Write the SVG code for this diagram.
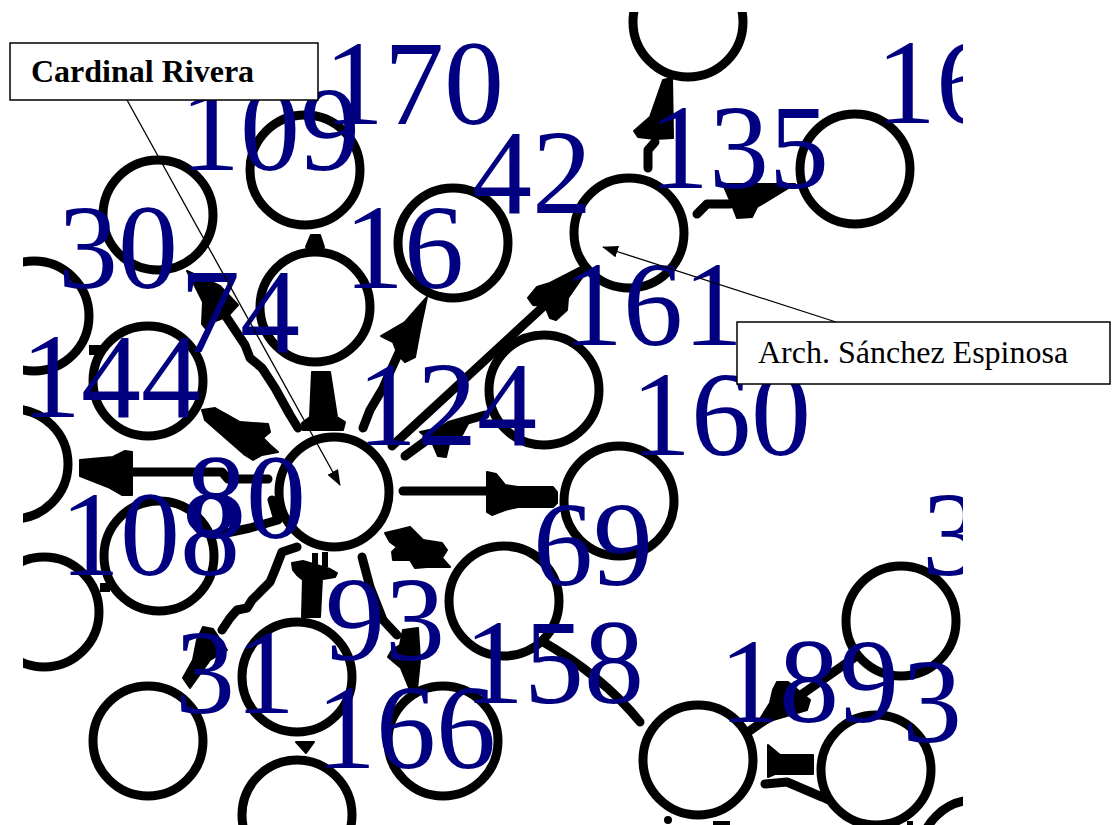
<svg xmlns="http://www.w3.org/2000/svg" width="1112" height="825" viewBox="0 0 1112 825">
  <style>
    .node circle { fill: #fff; stroke: #000; stroke-width: 9; }
    .edge { fill: none; stroke: #000; stroke-width: 9; stroke-linecap: round; stroke-linejoin: round; }
    .head { fill: #000; stroke: #000; stroke-width: 2; stroke-linejoin: round; }
    .lbl { font-family: "Liberation Serif", "Times New Roman", serif; font-size: 120px; fill: #000080; }
    .callout-box { fill: #fff; stroke: #000; stroke-width: 1.5; }
    .callout-line { fill: none; stroke: #000; stroke-width: 1.3; }
    .callout-text { font-family: "Liberation Serif", "Times New Roman", serif; font-size: 32px; fill: #000; }
  </style>
  <defs>
    <clipPath id="frame">
      <rect x="23" y="12" width="940" height="813"/>
    </clipPath>
    <marker id="callout-arrow" markerWidth="16" markerHeight="12" refX="15" refY="6" orient="auto" markerUnits="userSpaceOnUse">
      <path d="M0,0 L16,6 L0,12 Z" fill="#000"/>
    </marker>
  </defs>
  <rect width="1112" height="825" fill="#fff"/>

  <g clip-path="url(#frame)">
    <!-- connectors -->
    <g id="edges">
      <path class="edge" d="M648,168 L648,150 L655,142"/>
      <polygon class="head" points="663,80 672,78 673,138 655,139 638,137 634,131 650,117"/>

      <path class="edge" d="M697,214 L707,204 L730,204"/>
      <polygon class="head" points="723,184 795,184 757,207 752,217 737,218 732,205"/>

      <path class="edge" d="M392,446 L545,305"/>
      <polygon class="head" points="585,265 550,283 537,287 528,298 533,305 545,306 550,318 556,320 567,310 568,298 586,272"/>

      <path class="edge" d="M405,456 L427,440 L450,425 L485,415"/>
      <polygon class="head" points="420,432 448,426 470,420 462,435 450,440 446,457 438,456 432,442"/>

      <path class="edge" d="M363,428 L370,410 L383,388 L390,372 L400,350"/>
      <polygon class="head" points="427,297 405,322 381,336 393,342 398,355 405,362 415,357 420,330"/>

      <polygon class="head" points="312,372 330,372 337,417 345,422 343,430 303,430 302,423 310,417"/>
      <polygon class="head" points="311,235 320,235 324,247 306,247"/>

      <polygon class="head" points="187,271 203,278 220,286 238,305 228,316 213,322 207,330 202,324 203,302 196,288"/>
      <path class="edge" d="M225,315 L245,345 L250,358 L262,368 L275,388 L290,415 L298,428"/>

      <polygon class="head" points="202,410 215,408 240,422 268,424 270,432 263,438 270,445 278,452 262,455 253,460 245,455 205,420"/>

      <polygon class="head" points="80,460 113,457 125,451 132,452 132,495 122,495 108,487 80,476"/>
      <path class="edge" d="M130,472 L222,472 L228,479 L268,479"/>

      <path class="edge" d="M272,500 L278,520 L250,528 L222,534"/>

      <path class="edge" d="M297,547 L282,552 L275,570 L270,582 L260,592 L252,600 L247,608 L237,610 L230,618 L222,630"/>
      <polygon class="head" points="203,627 213,629 227,650 210,660 190,688 183,678 193,660 197,640"/>

      <polygon class="head" points="303,578 322,578 320,617 302,617"/>
      <polygon class="head" points="292,563 303,561 330,569 337,573 335,577 323,579 303,580 297,575 293,570"/>
      <rect x="312" y="553" width="6" height="14"/>
      <rect x="322" y="552" width="6" height="15"/>

      <path class="edge" d="M362,557 L370,587 L383,620 L397,635"/>
      <polygon class="head" points="403,630 418,628 420,660 417,690 410,690 401,668 388,657 392,650 400,645"/>

      <polygon class="head" points="385,533 398,530 410,527 423,540 442,543 447,550 442,558 450,567 427,567 415,568 410,560 393,560 392,552 397,547 390,542"/>

      <path class="edge" d="M403,491 L500,491"/>
      <polygon class="head" points="487,472 496,474 505,485 518,487 553,487 557,492 557,503 553,507 518,507 505,510 492,515 487,512"/>

      <path class="edge" d="M540,640 C575,660 610,685 640,722"/>

      <path class="edge" d="M748,732 L858,655"/>
      <polygon class="head" points="777,682 788,682 810,700 807,710 773,720 753,730 770,703 773,690"/>

      <polygon class="head" points="768,745 780,755 813,755 813,774 775,774 768,777"/>
      <path class="edge" d="M765,784 L787,782 L822,797 L835,803"/>

      <polygon class="head" points="296,742 314,742 306,753"/>
      <rect x="89" y="345" width="18" height="10"/>
      <rect x="100" y="583" width="10" height="9"/>

      <circle cx="668" cy="820" r="4"/>
      <rect x="713" y="821" width="17" height="4"/>
      <rect x="907" y="821" width="6" height="4"/>
    </g>

    <!-- nodes -->
    <g id="n01" class="node"><circle cx="688" cy="22" r="55"/></g>
    <g id="n02" class="node"><circle cx="855" cy="169" r="55"/></g>
    <g id="n03" class="node"><circle cx="629" cy="233" r="55"/></g>
    <g id="n04" class="node"><circle cx="453" cy="243" r="55"/></g>
    <g id="n05" class="node"><circle cx="305" cy="170" r="55"/></g>
    <g id="n06" class="node"><circle cx="158" cy="215" r="55"/></g>
    <g id="n07" class="node"><circle cx="315" cy="307" r="55"/></g>
    <g id="n08" class="node"><circle cx="34" cy="316" r="55"/></g>
    <g id="n09" class="node"><circle cx="148" cy="381" r="55"/></g>
    <g id="n10" class="node"><circle cx="544" cy="390" r="55"/></g>
    <g id="n11" class="node"><circle cx="13" cy="464" r="55"/></g>
    <g id="n12" class="node"><circle cx="334" cy="492" r="55"/></g>
    <g id="n13" class="node"><circle cx="619" cy="501" r="55"/></g>
    <g id="n14" class="node"><circle cx="159" cy="556" r="55"/></g>
    <g id="n15" class="node"><circle cx="44" cy="612" r="55"/></g>
    <g id="n16" class="node"><circle cx="504" cy="601" r="55"/></g>
    <g id="n17" class="node"><circle cx="901" cy="621" r="55"/></g>
    <g id="n18" class="node"><circle cx="297" cy="677" r="55"/></g>
    <g id="n19" class="node"><circle cx="148" cy="741" r="55"/></g>
    <g id="n20" class="node"><circle cx="443" cy="741" r="55"/></g>
    <g id="n21" class="node"><circle cx="698" cy="760" r="55"/></g>
    <g id="n22" class="node"><circle cx="297" cy="815" r="55"/></g>
    <g id="n23" class="node"><circle cx="876" cy="770" r="55"/></g>
    <g id="n24" class="node"><circle cx="975" cy="855" r="55"/></g>

    <!-- node labels -->
    <g id="labels" class="lbl">
      <text x="180" y="170">109</text>
      <text x="324" y="124">170</text>
      <text x="876" y="123">16</text>
      <text x="649" y="188">135</text>
      <text x="472" y="213">42</text>
      <text x="344" y="288">16</text>
      <text x="58" y="288">30</text>
      <text x="180" y="352">74</text>
      <text x="563" y="345">161</text>
      <text x="21" y="417">144</text>
      <text x="357" y="445">124</text>
      <text x="631" y="455">160</text>
      <text x="186" y="538">80</text>
      <text x="60" y="575">108</text>
      <text x="533" y="585">69</text>
      <text x="922" y="575">3</text>
      <text x="325" y="660">93</text>
      <text x="464" y="703">158</text>
      <text x="175" y="713">31</text>
      <text x="719" y="722">189</text>
      <text x="902" y="742">3</text>
      <text x="316" y="768">166</text>
    </g>
  </g>

  <!-- callouts -->
  <g id="callout-cardinal">
    <line class="callout-line" x1="127" y1="100" x2="340" y2="485" marker-end="url(#callout-arrow)"/>
    <rect class="callout-box" x="10" y="43" width="308" height="57"/>
    <text class="callout-text" x="31" y="82" font-weight="bold">Cardinal Rivera</text>
  </g>
  <g id="callout-arch">
    <line class="callout-line" x1="836" y1="322" x2="603" y2="247" marker-end="url(#callout-arrow)"/>
    <rect class="callout-box" x="737" y="322" width="373" height="62"/>
    <text class="callout-text" x="758" y="363">Arch. Sánchez Espinosa</text>
  </g>
</svg>
